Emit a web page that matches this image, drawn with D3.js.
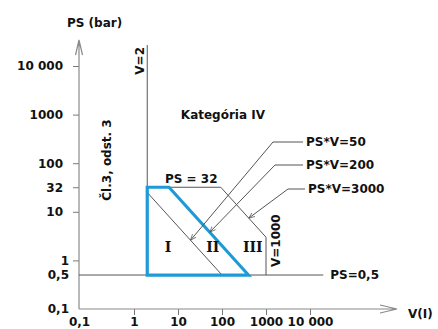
<!DOCTYPE html>
<html>
<head>
<meta charset="utf-8">
<script src="https://cdn.jsdelivr.net/npm/d3@7"></script>
<style>
  body { margin: 0; background: #fff; }
  text { font-family: "DejaVu Sans", Verdana, sans-serif; font-weight: bold; font-size: 12px; fill: #111; }
  text.roman { font-family: "DejaVu Serif", serif; font-size: 14px; }
</style>
</head>
<body>
<svg id="chart" width="438" height="329"></svg>
<script>
// tick values and labels
const xTicks = [0.1, 1, 10, 100, 1000, 10000];
const xTickLabels = ["0,1", "1", "10", "100", "1000", "10 000"];
const yTicks = [0.1, 0.5, 1, 10, 32, 100, 1000, 10000];
const yTickLabels = ["0,1", "0,5", "1", "10", "32", "100", "1000", "10 000"];

// limits of the diagram
const psLow = 0.5, psHigh = 32;
const vLow = 2, vHigh = 1000;
const products = [50, 200, 3000];       // PS*V lines
const psLowEndV = 20000;                // PS=0,5 line runs out to here
const vLowTopPS = 27000;                // V=2 line runs up to here

// leaders: where each arrow touches its PS*V line (PS value)
const leaderPV = [50, 200, 3000];
const leaderPS = [2.6, 3.8, 7.4];
const leaderText = ["PS*V=50", "PS*V=200", "PS*V=3000"];

// category numerals (V, PS)
const romanText = ["I", "II", "III"];
const romanV = [5.9, 62, 500];
const romanPS = [1.9, 1.9, 1.9];

const svg = d3.select("#chart");

// schematic axes: 0,1 sits at the origin, decades above it are evenly spaced
const xs = d3.scaleLinear().domain([-1, 0, 4]).range([79, 134, 310]);
const x = v => xs(Math.log10(v));
const y = d3.scaleLog().domain([0.1, 10000]).range([309, 66]);

const x0 = x(0.1), y0 = y(0.1);

// arrow marker for leaders
svg.append("defs").append("marker")
    .attr("id", "tip")
    .attr("viewBox", [0, 0, 10, 10])
    .attr("refX", 10).attr("refY", 5)
    .attr("markerWidth", 6).attr("markerHeight", 6)
    .attr("markerUnits", "userSpaceOnUse")
    .attr("orient", "auto")
    .append("path")
    .attr("d", "M0,1L10,5L0,9")
    .attr("fill", "none")
    .attr("stroke", "#555")
    .attr("stroke-width", 1.2);

// y axis
const gy = svg.append("g")
    .attr("transform", `translate(${x0},0)`)
    .call(d3.axisLeft(y).tickValues(yTicks).tickSize(6).tickPadding(10)
        .tickFormat((d, i) => yTickLabels[i]));
gy.select(".domain").remove();
gy.selectAll(".tick line").attr("stroke", "#777")
    .attr("display", d => d <= 0.5 ? "none" : null);
gy.selectAll(".tick text").attr("dx", d => d <= 1 ? 6 : 0);

// x axis
const gx = svg.append("g")
    .attr("transform", `translate(0,${y0})`)
    .call(d3.axisBottom(xs).tickValues(xTicks.map(Math.log10)).tickSize(6).tickPadding(2.5)
        .tickFormat((d, i) => xTickLabels[i]));
gx.select(".domain").remove();
gx.selectAll(".tick line").attr("stroke", "#777")
    .attr("display", d => d < 0 ? "none" : null);

// axis lines with open arrows
const axis = svg.append("g").attr("fill", "none").attr("stroke", "#8a8a8a").attr("stroke-width", 1.2);
axis.append("path").attr("d", `M${x0},${y0}V40M${x0 - 3.5},55L${x0},40L${x0 + 3.5},55`);
axis.append("path").attr("d", `M${x0},${y0}H397M380,${y0 - 4}L397,${y0}L380,${y0 + 4}`);

svg.append("text").attr("x", 67).attr("y", 27).text("PS (bar)");
svg.append("text").attr("x", 408).attr("y", 318).text("V(I)");

// thin boundary lines
const thin = svg.append("g").attr("fill", "none").attr("stroke", "#555").attr("stroke-width", 1);
const line = d3.line().x(d => x(d[0])).y(d => y(d[1]));

thin.append("path").attr("d", line([[0.1, psLow], [psLowEndV, psLow]]));
thin.append("path").attr("d", line([[vLow, psLow], [vLow, vLowTopPS]]));
thin.append("path").attr("d", line([[vLow, psHigh], [products[2] / psHigh, psHigh]]));
// PS*V=50 from the corner of the box down to PS=0,5
thin.append("path").attr("d", line([[vLow, products[0] / vLow], [products[0] / psLow, psLow]]));
// PS*V=3000 from PS=32 down to V=1000, then V=1000 down to PS=0,5
thin.append("path").attr("d", line([[products[2] / psHigh, psHigh], [vHigh, products[2] / vHigh], [vHigh, psLow]]));

// blue region bounded by PS*V=200
svg.append("path")
    .attr("d", line([[vLow, psHigh], [products[1] / psHigh, psHigh], [products[1] / psLow, psLow], [vLow, psLow]]) + "Z")
    .attr("fill", "none")
    .attr("stroke", "#1e9ad6")
    .attr("stroke-width", 3.2)
    .attr("stroke-linejoin", "miter");

// leaders: tip on the line, elbow, short horizontal, label
const leaderElbow = [[273, 142], [275, 165], [288, 189]];
const leaderEnd = [303, 303, 305];
leaderPV.forEach((pv, i) => {
    const tx = x(pv / leaderPS[i]), ty = y(leaderPS[i]);
    const [ex, ey] = leaderElbow[i];
    svg.append("path")
        .attr("d", `M${leaderEnd[i]},${ey}H${ex}L${tx},${ty}`)
        .attr("fill", "none").attr("stroke", "#555").attr("stroke-width", 1)
        .attr("marker-end", "url(#tip)");
    svg.append("text")
        .attr("x", leaderEnd[i] + 3).attr("y", ey)
        .attr("dy", "0.35em")
        .text(leaderText[i]);
});

// region labels
svg.selectAll("text.roman")
    .data(romanText)
    .join("text")
    .attr("class", "roman")
    .attr("text-anchor", "middle")
    .attr("dy", "0.35em")
    .attr("x", (d, i) => x(romanV[i]))
    .attr("y", (d, i) => y(romanPS[i]))
    .text(d => d);

svg.append("text").attr("x", x(105)).attr("y", y(970)).attr("dy", "0.35em")
    .attr("text-anchor", "middle").text("Kategória IV");
svg.append("text").attr("x", x(20)).attr("y", y(psHigh) - 4)
    .attr("text-anchor", "middle").text("PS = 32");
svg.append("text").attr("x", x(psLowEndV) + 7).attr("y", y(psLow)).attr("dy", "0.35em")
    .text("PS=0,5");

// rotated labels
svg.append("text")
    .attr("transform", `translate(${x(vLow) - 3},47) rotate(-90)`)
    .attr("text-anchor", "end").text("V=2");
svg.append("text")
    .attr("transform", `translate(${x(vHigh) + 14},${y(psLow) - 8}) rotate(-90)`)
    .text("V=1000");
svg.append("text")
    .attr("transform", `translate(111,160) rotate(-90)`)
    .attr("text-anchor", "middle").text("Čl.3, odst. 3");
</script>
</body>
</html>
